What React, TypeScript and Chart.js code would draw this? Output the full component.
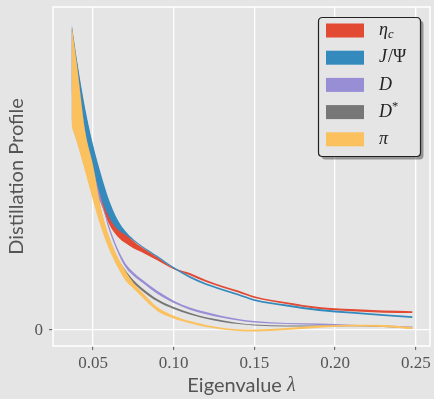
import { useEffect, useRef } from "react";
import { Chart, registerables } from "chart.js";

Chart.register(...registerables);

// Eigenvalue grid (x)
const eigenvalues = [0.0368, 0.040, 0.045, 0.050, 0.055, 0.060, 0.065, 0.070, 0.075, 0.080, 0.090, 0.100, 0.110, 0.120, 0.130, 0.140, 0.150, 0.170, 0.190, 0.210, 0.230, 0.248];

// eta_c band
const etacUpper = [1.007, 0.893, 0.733, 0.610, 0.510, 0.420, 0.360, 0.323, 0.297, 0.277, 0.242, 0.207, 0.190, 0.167, 0.148, 0.132, 0.113, 0.093, 0.077, 0.070, 0.065, 0.063];
const etacLower = [0.783, 0.714, 0.600, 0.493, 0.420, 0.353, 0.313, 0.290, 0.273, 0.260, 0.232, 0.203, 0.183, 0.160, 0.142, 0.125, 0.107, 0.087, 0.070, 0.063, 0.058, 0.057];

// J/Psi band
const jpsiUpper = [1.020, 0.902, 0.743, 0.618, 0.519, 0.433, 0.370, 0.330, 0.303, 0.282, 0.247, 0.210, 0.180, 0.156, 0.138, 0.121, 0.103, 0.085, 0.070, 0.061, 0.053, 0.046];
const jpsiLower = [0.800, 0.737, 0.633, 0.533, 0.440, 0.375, 0.337, 0.318, 0.298, 0.278, 0.242, 0.205, 0.174, 0.150, 0.132, 0.115, 0.097, 0.079, 0.064, 0.055, 0.047, 0.040];

// D band
const dUpper = [1.013, 0.887, 0.667, 0.543, 0.437, 0.347, 0.275, 0.223, 0.193, 0.170, 0.130, 0.098, 0.075, 0.060, 0.047, 0.037, 0.030, 0.024, 0.022, 0.018, 0.015, 0.012];
const dLower = [0.687, 0.630, 0.540, 0.450, 0.423, 0.333, 0.263, 0.210, 0.181, 0.160, 0.120, 0.090, 0.068, 0.053, 0.041, 0.032, 0.025, 0.020, 0.017, 0.015, 0.011, 0.008];

// D* band
const dStarUpper = [1.010, 0.880, 0.663, 0.543, 0.400, 0.307, 0.243, 0.200, 0.167, 0.142, 0.103, 0.077, 0.058, 0.043, 0.033, 0.024, 0.019, 0.015, 0.015, 0.017, 0.014, 0.009];
const dStarLower = [0.700, 0.640, 0.550, 0.450, 0.360, 0.277, 0.220, 0.190, 0.157, 0.133, 0.095, 0.070, 0.052, 0.038, 0.027, 0.020, 0.015, 0.012, 0.012, 0.013, 0.010, 0.005];

// pi band
const piUpper = [1.017, 0.885, 0.667, 0.550, 0.405, 0.312, 0.247, 0.198, 0.158, 0.129, 0.076, 0.048, 0.030, 0.017, 0.008, 0.003, 0.002, 0.007, 0.015, 0.018, 0.017, 0.010];
const piLower = [0.677, 0.626, 0.530, 0.432, 0.341, 0.269, 0.212, 0.166, 0.139, 0.112, 0.063, 0.039, 0.023, 0.010, 0.002, -0.003, -0.005, 0.000, 0.008, 0.012, 0.010, 0.003];

const seriesLabels = ["η_c", "J/Ψ", "D", "D^*", "π"];
const seriesColors = ["#E24A33", "#348ABD", "#988ED5", "#777777", "#FBC15E"];
const seriesUpper = [etacUpper, jpsiUpper, dUpper, dStarUpper, piUpper];
const seriesLower = [etacLower, jpsiLower, dLower, dStarLower, piLower];

const xTicks = [0.05, 0.10, 0.15, 0.20, 0.25];
const yTicks = [0];
const xTitle = "Eigenvalue ";
const xTitleSymbol = "λ";
const yTitle = "Distillation Profile";

const BG = "#E5E5E5";
const TEXT = "#555555";
const SERIF = "'Liberation Serif', 'DejaVu Serif', serif";
const SANS = "Lato, 'DejaVu Sans', sans-serif";

function drawMathLabel(ctx: CanvasRenderingContext2D, label: string, x: number, y: number, size: number) {
  let cx = x;
  for (let i = 0; i < label.length; i++) {
    let ch = label[i];
    let dy = 0;
    let s = size;
    if (ch === "_" || ch === "^") {
      const sub = ch === "_";
      i++;
      ch = label[i];
      s = size * 0.7;
      dy = sub ? size * 0.25 : -size * 0.3;
    }
    const upright = ch === "/" || ch === "Ψ" || ch === "*";
    ctx.font = `${upright ? "" : "italic "}${s}px ${SERIF}`;
    ctx.fillText(ch, cx, y + dy);
    cx += ctx.measureText(ch).width + (ch === "J" ? 1 : 0);
  }
}

export default function App() {
  const ref = useRef<HTMLCanvasElement>(null);

  useEffect(() => {
    const canvas = ref.current!;
    const datasets: any[] = [];
    seriesLabels.forEach((label, i) => {
      const order = seriesLabels.length - i;
      datasets.push({
        label: label + " lower",
        data: eigenvalues.map((x, k) => ({ x, y: seriesLower[i][k] })),
        borderColor: "transparent",
        borderWidth: 0,
        pointRadius: 0,
        fill: false,
        cubicInterpolationMode: "monotone",
        order,
      });
      datasets.push({
        label,
        data: eigenvalues.map((x, k) => ({ x, y: seriesUpper[i][k] })),
        borderColor: "transparent",
        borderWidth: 0,
        pointRadius: 0,
        backgroundColor: seriesColors[i],
        fill: "-1",
        cubicInterpolationMode: "monotone",
        order,
      });
    });

    const decor = {
      id: "decor",
      beforeDraw(chart: any) {
        const c = chart.ctx;
        c.save();
        c.fillStyle = BG;
        c.fillRect(0, 0, chart.width, chart.height);
        c.restore();
      },
      beforeDatasetsDraw(chart: any) {
        const c = chart.ctx;
        const a = chart.chartArea;
        c.save();
        c.strokeStyle = "#FFFFFF";
        c.lineWidth = 1.5;
        c.strokeRect(a.left, a.top, a.right - a.left, a.bottom - a.top);
        c.restore();
      },
      afterDraw(chart: any) {
        const c = chart.ctx;
        const a = chart.chartArea;
        c.save();
        // x title
        c.fillStyle = TEXT;
        c.textBaseline = "middle";
        c.font = `20px ${SANS}`;
        const w1 = c.measureText(xTitle).width;
        c.font = `italic 20px ${SERIF}`;
        const w2 = c.measureText(xTitleSymbol).width;
        const cxm = (a.left + a.right) / 2;
        const tx = cxm - (w1 + w2) / 2;
        c.font = `20px ${SANS}`;
        c.textAlign = "left";
        c.fillText(xTitle, tx, 386);
        c.font = `italic 20px ${SERIF}`;
        c.fillText(xTitleSymbol, tx + w1, 386);
        // y title
        c.save();
        c.translate(17, (a.top + a.bottom) / 2);
        c.rotate(-Math.PI / 2);
        c.textAlign = "center";
        c.font = `20px ${SANS}`;
        c.fillText(yTitle, 0, 0);
        c.restore();

        // legend
        const bx = 318.5, by = 17.5, bw = 102, bh = 139, r = 4;
        const rr = (x: number, y: number, w: number, h: number) => {
          c.beginPath();
          c.moveTo(x + r, y);
          c.lineTo(x + w - r, y);
          c.quadraticCurveTo(x + w, y, x + w, y + r);
          c.lineTo(x + w, y + h - r);
          c.quadraticCurveTo(x + w, y + h, x + w - r, y + h);
          c.lineTo(x + r, y + h);
          c.quadraticCurveTo(x, y + h, x, y + h - r);
          c.lineTo(x, y + r);
          c.quadraticCurveTo(x, y, x + r, y);
          c.closePath();
        };
        rr(bx + 3, by + 3, bw, bh);
        c.fillStyle = "rgba(0,0,0,0.35)";
        c.fill();
        rr(bx, by, bw, bh);
        c.fillStyle = BG;
        c.fill();
        c.strokeStyle = "#222222";
        c.lineWidth = 1.2;
        c.stroke();
        seriesLabels.forEach((label, i) => {
          const cy = 30.5 + i * 27.2;
          c.fillStyle = seriesColors[i];
          c.fillRect(326, cy - 7, 38, 14);
          c.fillStyle = "#222222";
          c.textAlign = "left";
          c.textBaseline = "middle";
          drawMathLabel(c, label, 379, cy, 18);
        });
        c.restore();
      },
    };

    const chart = new Chart(canvas, {
      type: "line",
      data: { datasets },
      options: {
        animation: false,
        responsive: false,
        devicePixelRatio: 1,
        layout: { padding: { top: 7, right: 4, left: 0, bottom: 0 } },
        plugins: { legend: { display: false }, tooltip: { enabled: false } },
        elements: { point: { radius: 0 } },
        scales: {
          x: {
            type: "linear",
            min: 0.0252,
            max: 0.2588,
            afterBuildTicks: (scale: any) => {
              scale.ticks = xTicks.map((v) => ({ value: v }));
            },
            afterFit: (scale: any) => {
              scale.height = 53;
              scale.paddingLeft = 0;
              scale.paddingRight = 0;
            },
            ticks: {
              callback: (v: any) => Number(v).toFixed(2),
              font: { family: SERIF, size: 17 },
              color: TEXT,
              padding: 3,
              maxRotation: 0,
            },
            grid: { color: "#FFFFFF", lineWidth: 1.3, tickColor: TEXT, tickLength: 4, tickWidth: 1 },
            border: { display: false },
          },
          y: {
            type: "linear",
            min: -0.053,
            max: 1.077,
            afterBuildTicks: (scale: any) => {
              scale.ticks = yTicks.map((v) => ({ value: v }));
            },
            afterFit: (scale: any) => {
              scale.width = 53;
              scale.paddingTop = 0;
              scale.paddingBottom = 0;
            },
            ticks: {
              callback: (v: any) => String(v),
              font: { family: SERIF, size: 17 },
              color: TEXT,
              padding: 6,
            },
            grid: { color: "#FFFFFF", lineWidth: 1.3, tickColor: TEXT, tickLength: 4, tickWidth: 1 },
            border: { display: false },
          },
        },
      },
      plugins: [decor],
    });
    return () => chart.destroy();
  }, []);

  return (
    <canvas
      ref={ref}
      width={434}
      height={399}
      style={{ position: "fixed", left: 0, top: 0, width: 434, height: 399, display: "block" }}
    />
  );
}
